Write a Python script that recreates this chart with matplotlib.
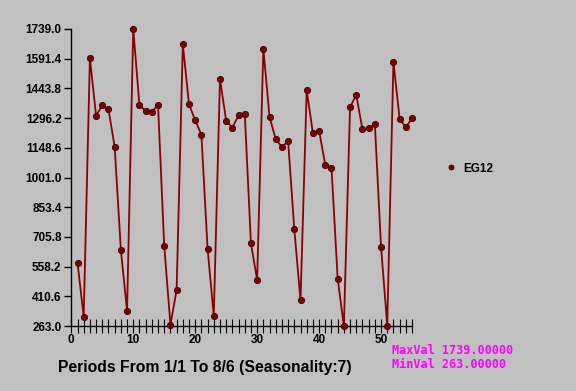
import matplotlib
matplotlib.use("Agg")
import numpy as np
from matplotlib import pyplot as plt
from matplotlib.ticker import MultipleLocator

# periods 1..55 and their values
periods = list(range(1, 56))
eg12 = [578, 309, 1593, 1308, 1360, 1340, 1153, 641, 339, 1739,
        1360, 1332, 1328, 1361, 661, 270, 442, 1663, 1365, 1285,
        1214, 647, 314, 1489, 1283, 1249, 1310, 1317, 674, 492,
        1641, 1302, 1191, 1153, 1182, 743, 392, 1436, 1221, 1234,
        1063, 1050, 498, 263, 1351, 1411, 1240, 1245, 1268, 657,
        265, 1575, 1292, 1251, 1295]

y_ticks = [263.0, 410.6, 558.2, 705.8, 853.4, 1001.0, 1148.6, 1296.2, 1443.8, 1591.4, 1739.0]
x_labels = [0, 10, 20, 30, 40, 50]

bg = "#c0c0c0"
fig = plt.figure(figsize=(5.76, 3.91), dpi=100, facecolor=bg)
ax = fig.add_axes([0.1238, 0.166, 0.5915, 0.760])
ax.set_facecolor(bg)

ax.plot(periods, eg12, color="#8b0000", lw=1.3, marker="o", ms=4.5,
        markerfacecolor="#800000", markeredgecolor="#3a0000", mew=0.6,
        label="EG12", clip_on=False, zorder=3)

ax.set_xlim(0, 55)
ax.set_ylim(263, 1739)
ax.set_yticks(y_ticks)
ax.set_yticklabels(["%.1f" % v for v in y_ticks])
ax.set_xticks(x_labels)
ax.xaxis.set_minor_locator(MultipleLocator(1))

for s in ("top", "right"):
    ax.spines[s].set_visible(False)
for s in ("left", "bottom"):
    ax.spines[s].set_color("black")
    ax.spines[s].set_linewidth(1.0)

ax.tick_params(axis="y", direction="out", length=5, width=1, pad=2,
               labelsize=8.5)
ax.tick_params(axis="x", which="both", direction="inout", length=9.5, width=0.8,
               pad=1, labelsize=8.5)
for lab in ax.get_xticklabels() + ax.get_yticklabels():
    lab.set_fontweight("bold")
    lab.set_fontfamily("Liberation Sans")

fig.text(0.356, 0.061, "Periods From 1/1 To 8/6 (Seasonality:7)", fontsize=11.3,
         fontweight="bold", family="Liberation Sans", ha="center", va="center")

leg = ax.legend(loc="center left", bbox_to_anchor=(1.07, 0.53), frameon=False,
                handlelength=0.8, handletextpad=0.6, markerscale=0.8,
                prop={"family": "Liberation Sans", "weight": "bold", "size": 8.5})
leg.get_lines()[0].set_linestyle("none")

fig.text(0.681, 0.103, "MaxVal 1739.00000", color="#ff00ff", fontsize=8.5,
         family="DejaVu Sans Mono", fontweight="bold", va="center")
fig.text(0.681, 0.069, "MinVal 263.00000", color="#ff00ff", fontsize=8.5,
         family="DejaVu Sans Mono", fontweight="bold", va="center")

fig.savefig("out.png", dpi=100, facecolor=bg)
